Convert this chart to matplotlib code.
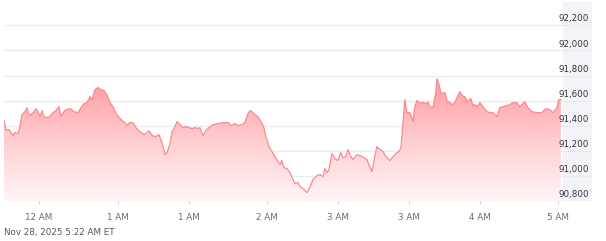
import numpy as np
import matplotlib
matplotlib.use("Agg")
from matplotlib import pyplot as plt
from matplotlib.colors import LinearSegmentedColormap

# minutes after the first print (roughly 23:40 ET)
minutes = [0.0, 1.1, 2.7, 3.8, 4.9, 5.9, 7.5, 8.6, 9.7, 11.3, 12.4, 13.5, 14.6, 16.2, 17.2, 18.3,
           19.4, 20.5, 21.6, 23.2, 24.8, 26.4, 28.0, 29.6, 30.7, 31.8, 33.4, 35.6, 37.7, 39.9,
           41.5, 43.1, 44.7, 46.4, 47.4, 49.1, 50.7, 52.3, 53.9, 55.5, 57.1, 58.8, 60.4, 62.0,
           63.6, 65.2, 66.3, 67.9, 69.5, 71.1, 73.3, 75.5, 77.1, 78.2, 79.8, 81.9, 83.5, 85.2,
           86.8, 87.9, 89.5, 90.6, 92.2, 93.3, 94.3, 95.4, 96.5, 98.1, 99.7, 101.3, 103.0,
           104.6, 105.6, 107.3, 108.9, 110.5, 112.7, 115.4, 118.1, 120.8, 122.4, 124.5, 126.1,
           128.3, 129.9, 131.5, 132.6, 133.7, 135.3, 136.9, 138.5, 140.1, 141.2, 142.9, 144.5,
           146.1, 147.7, 148.8, 149.8, 150.9, 152.5, 154.2, 155.8, 156.8, 158.5, 159.5, 161.2,
           163.3, 164.9, 166.6, 168.7, 170.3, 172.0, 173.0, 174.1, 175.2, 176.8, 178.4, 180.0,
           181.6, 182.7, 184.3, 185.4, 187.0, 188.1, 190.3, 193.0, 195.7, 196.7, 198.4, 200.0,
           201.0, 202.7, 204.3, 205.9, 208.1, 209.7, 211.8, 212.9, 214.0, 215.1, 216.1, 217.2,
           218.8, 220.5, 221.5, 222.6, 224.2, 225.8, 228.0, 228.5, 229.6, 231.2, 232.8, 233.4,
           234.5, 235.5, 236.6, 237.7, 238.8, 240.4, 241.5, 243.1, 244.2, 245.8, 246.9, 248.5,
           249.6, 251.7, 252.8, 253.9, 254.9, 256.6, 258.2, 260.3, 262.0, 263.6, 265.7, 267.3,
           269.0, 271.2, 272.7, 274.4, 276.5, 278.1, 280.8, 282.4, 284.6, 287.3, 290.0, 292.1,
           294.3, 295.9, 298.1, 299.1, 300.2]
prices = [91440, 91369, 91369, 91345, 91321, 91345, 91337, 91393, 91488, 91512, 91544, 91488,
          91488, 91512, 91536, 91512, 91472, 91520, 91472, 91465, 91472, 91504, 91520, 91552,
          91472, 91504, 91528, 91536, 91512, 91504, 91544, 91576, 91584, 91632, 91608, 91688,
          91704, 91688, 91680, 91648, 91584, 91552, 91496, 91465, 91441, 91425, 91401, 91425,
          91425, 91385, 91353, 91329, 91345, 91361, 91321, 91313, 91329, 91265, 91170, 91186,
          91257, 91353, 91393, 91433, 91417, 91401, 91385, 91393, 91385, 91377, 91385, 91377,
          91385, 91321, 91361, 91385, 91409, 91417, 91425, 91425, 91401, 91417, 91401, 91409,
          91425, 91496, 91520, 91512, 91488, 91472, 91433, 91385, 91313, 91233, 91194, 91154,
          91114, 91090, 91122, 91066, 91058, 91026, 90971, 90939, 90947, 90915, 90899, 90867,
          90907, 90971, 91002, 91010, 90994, 91058, 91026, 91050, 91178, 91138, 91122, 91186,
          91146, 91154, 91210, 91154, 91130, 91170, 91154, 91130, 91090, 91034, 91162, 91233,
          91210, 91194, 91154, 91122, 91154, 91186, 91194, 91226, 91425, 91608, 91504, 91504,
          91433, 91552, 91600, 91584, 91584, 91576, 91592, 91552, 91544, 91664, 91775, 91727,
          91664, 91656, 91664, 91600, 91584, 91568, 91584, 91624, 91672, 91640, 91632, 91592,
          91616, 91560, 91568, 91552, 91584, 91552, 91512, 91504, 91504, 91472, 91544, 91552,
          91560, 91568, 91584, 91584, 91552, 91592, 91544, 91512, 91504, 91504, 91536, 91528,
          91504, 91544, 91608, 91608]

tick_minutes = [18.9, 61.5, 99.7, 141.8, 180.0, 218.3, 256.6, 298.7]
tick_labels = ["12 AM", "1 AM", "1 AM", "2 AM", "3 AM", "3 AM", "4 AM", "5 AM"]
price_ticks = [90800, 91000, 91200, 91400, 91600, 91800, 92000, 92200]
stamp = "Nov 28, 2025 5:22 AM ET"

x = np.array(minutes)
y = np.array(prices)
ymin, ymax = 90800, 92386
xmax = 317

fig = plt.figure(figsize=(6.06, 2.41), dpi=100)
ax = fig.add_axes([4 / 606, 40 / 241, 588 / 606, 199 / 241])
ax.set_xlim(0, xmax)
ax.set_ylim(ymin, ymax)

# grey price panel on the right
ax.axvspan(x[-1] + 1.0, xmax, color="#f4f4f8", zorder=0, lw=0)

for p in price_ticks[1:]:
    ax.axhline(p, color="#ebebef", lw=1, zorder=1)
ax.axhline(price_ticks[0], color="#dcdce0", lw=1, zorder=1)

# gradient fill under the line
cmap = LinearSegmentedColormap.from_list("fade", ["#fff5f6", "#ffcdd0", "#ff9aa0"])
grad = np.linspace(0, 1, 256).reshape(-1, 1)
img = ax.imshow(grad, extent=[x[0], x[-1], ymin, 91780], origin="lower",
                aspect="auto", cmap=cmap, zorder=2)
poly = ax.fill_between(x, y, ymin, color="none", lw=0)
img.set_clip_path(poly.get_paths()[0], transform=ax.transData)
ax.plot(x, y, color="#fb8990", lw=0.9, zorder=3)

for p in price_ticks:
    ax.text(0.995, p + 15, f"{p:,}", transform=ax.get_yaxis_transform(),
            ha="right", va="bottom", fontsize=6.3, color="#343444", zorder=4)

ax.set_yticks([])
ax.set_xticks(tick_minutes)
ax.set_xticklabels(tick_labels, fontsize=6.3, color="#6a6a78")
ax.tick_params(axis="x", length=2.5, width=0.8, color="#cfcfd6", pad=6)
for s in ax.spines.values():
    s.set_visible(False)

fig.text(4 / 606, 1 - 232 / 241, stamp, fontsize=6.3, color="#555560", va="center")

fig.savefig("out.png", dpi=100)
